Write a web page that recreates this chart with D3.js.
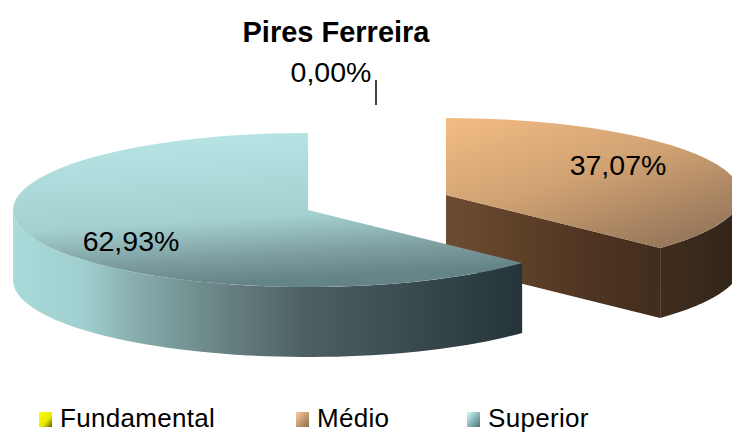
<!DOCTYPE html>
<html>
  <head>
    <meta charset="UTF-8">
    <title>Pires Ferreira</title>
    <style>
    body { margin: 0; background: #fff; }
    svg { display: block; }
    text { font-family: "Liberation Sans", Arial, sans-serif; fill: #000; }
    </style>
  </head>
  <body>
    <svg width="732" height="432" viewBox="0 0 732 432"></svg>
    <script src="https://d3js.org/d3.v7.min.js"></script>
    <script>
var categories = ["Fundamental", "Médio", "Superior"];
var values = [0.00, 37.07, 62.93];
var valueLabels = ["0,00%", "37,07%", "62,93%"];

var svg = d3.select("svg");
var width = 732, height = 432;

// pie geometry
var rx = 295, ry = 77, depth = 70;
var origins = {Fundamental: [376, 196], "Médio": [446, 195], Superior: [308, 210]};
var labelPos = {Fundamental: [331, 82], "Médio": [618, 175], Superior: [131, 251]};

var defs = svg.append("defs");
defs.append("clipPath").attr("id", "page").append("rect").attr("width", width).attr("height", height);

function grad(id, stops, x1, y1, x2, y2) {
  var g = defs.append("linearGradient").attr("id", id)
    .attr("x1", x1).attr("y1", y1).attr("x2", x2).attr("y2", y2);
  stops.forEach(s => g.append("stop").attr("offset", s[0]).attr("stop-color", s[1]));
  return g;
}
grad("topMedio", [[0, "#f2bb84"], [0.5, "#d0a273"], [1, "#96765a"]], 0, 0, 0.75, 1);
// same span for the cut face and the rim so there is no seam at the tip
grad("sideMedio", [[0, "#6e4c31"], [0.5, "#4f3521"], [1, "#33251a"]], 446, 0, 732, 0)
  .attr("gradientUnits", "userSpaceOnUse");
grad("topSuperior", [[0, "#b8e6e6"], [0.6, "#a4d0d0"], [0.85, "#7c9c9e"], [1, "#648488"]], 0.1, 0, 0.3, 1);
grad("sideSuperior", [[0, "#a9dbdb"], [0.14, "#a0cfcf"], [0.23, "#8ab0b0"], [0.37, "#6f8c8c"], [0.57, "#4e6062"], [0.75, "#3c4e51"], [1, "#24343a"]], 0, 0, 1, 0);
grad("keyFundamental", [[0, "#ffff00"], [0.6, "#e8e800"], [1, "#5c5c00"]], 0, 0, 1, 1);
grad("keyMedio", [[0, "#ffcc99"], [1, "#8a6e50"]], 0, 0, 1, 1);
grad("keySuperior", [[0, "#ccffff"], [1, "#4f7072"]], 0, 0, 1, 1);

var pie = d3.pie().sort(null).value(d => d);
var arcs = pie(values);
var unit = d3.arc().innerRadius(0).outerRadius(rx);

// point on the flattened rim, angle clockwise from 12 o'clock
function rim(a, o, dy) {
  return [o[0] + rx * Math.sin(a), o[1] - ry * Math.cos(a) + (dy || 0)];
}

// outer wall of a slice, only the part that faces the viewer
function wallPath(d, o) {
  var a0 = Math.max(d.startAngle, Math.PI / 2), a1 = Math.min(d.endAngle, 3 * Math.PI / 2);
  if (a1 <= a0) return null;
  var top = d3.range(0, 61).map(i => rim(a0 + (a1 - a0) * i / 60, o, 0));
  var bottom = top.slice().reverse().map(p => [p[0], p[1] + depth]);
  return d3.line()(top.concat(bottom)) + "Z";
}

var g = svg.append("g").attr("clip-path", "url(#page)");

// Médio first, Superior overlaps it
[1, 2].forEach(i => {
  var name = categories[i], o = origins[name], d = arcs[i];
  var slice = g.append("g");

  if (name === "Médio") {
    // cut face from the centre to the tip
    var tip = rim(d.endAngle, o);
    slice.append("path")
      .attr("d", d3.line()([o, tip, [tip[0], tip[1] + depth], [o[0], o[1] + depth]]) + "Z")
      .attr("fill", "url(#sideMedio)");
  }
  slice.append("path").attr("d", wallPath(d, o)).attr("fill", "url(#side" + name.replace("é", "e") + ")");
  slice.append("path")
    .attr("transform", "translate(" + o + ") scale(1," + ry / rx + ")")
    .attr("d", unit(d))
    .attr("fill", "url(#top" + name.replace("é", "e") + ")");
});

// title, first line runs off the top of the picture
svg.append("text").attr("x", 336).attr("y", 42).attr("text-anchor", "middle")
  .attr("font-size", 29).attr("font-weight", "bold").text("Pires Ferreira");

// value labels
categories.forEach((c, i) => {
  svg.append("text").attr("x", labelPos[c][0]).attr("y", labelPos[c][1])
    .attr("text-anchor", "middle").attr("font-size", 28.5).text(valueLabels[i]);
});

// leader of the empty slice
svg.append("line").attr("x1", 376).attr("x2", 376).attr("y1", 80).attr("y2", 105)
  .attr("stroke", "#000").attr("stroke-width", 1.5);

// legend
var legendX = d3.scaleOrdinal().domain(categories).range([39, 296, 467]);
var legend = svg.selectAll("g.key").data(categories).join("g")
  .attr("class", "key")
  .attr("transform", d => "translate(" + legendX(d) + ",0)");
legend.append("rect").attr("y", 412).attr("width", 13).attr("height", 15)
  .attr("fill", d => "url(#key" + d.replace("é", "e") + ")");
legend.append("text").attr("x", 21).attr("y", 426.5).attr("font-size", 26)
  .attr("letter-spacing", 0.3).text(d => d);
    </script>
  </body>
</html>
